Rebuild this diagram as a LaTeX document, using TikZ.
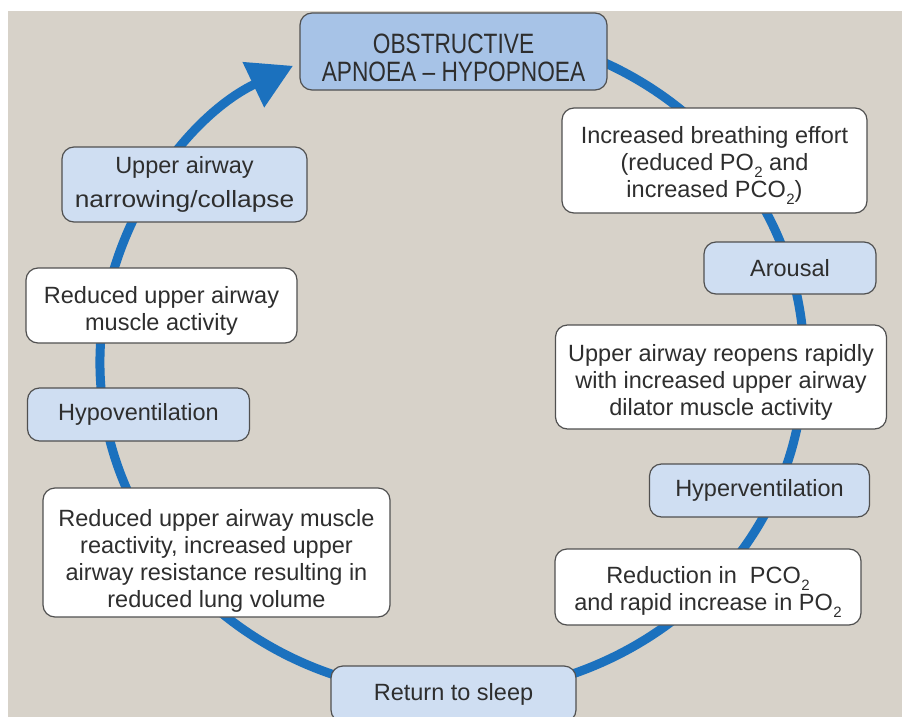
\documentclass[tikz,border=0pt]{standalone}
\usepackage{fontspec}
\setmainfont{Liberation Sans}
\newfontfamily\condfont[FakeStretch=0.81]{Liberation Sans}
\usetikzlibrary{arrows.meta}
\definecolor{bgbeige}{HTML}{D7D2C9}
\definecolor{cycblue}{HTML}{1B71BE}
\definecolor{boxblue}{HTML}{CFDEF2}
\definecolor{topblue}{HTML}{A7C3E7}
\definecolor{edgegray}{HTML}{505050}
\definecolor{txtgray}{HTML}{2E2E2E}
\newcommand\subtwo{\kern0.5pt\raisebox{-0.55ex}{\fontsize{15}{15}\selectfont 2}}
\newcommand\dropa{\rule{0pt}{27pt}}
\newcommand\dropb{\rule{0pt}{33pt}}
\begin{document}
\begin{tikzpicture}[x=1pt,y=-1pt,
  box/.style={draw=edgegray, line width=1.2pt, rounded corners=12pt, inner sep=0pt,
    align=center, text=txtgray, font=\fontsize{23.5}{27}\selectfont},
  whitebox/.style={box, fill=white},
  bluebox/.style={box, fill=boxblue},
  topbox/.style={box, fill=topblue, font=\condfont\fontsize{28}{28.5}\selectfont},
  cycle/.style={cycblue, line width=9pt, -{Triangle[length=44pt,width=48pt]}}]
\useasboundingbox (0,0) rectangle (902,717);
\clip (0,0) rectangle (902,717);
\fill[white] (0,0) rectangle (902,717);
\fill[bgbeige] (8,11) rectangle (902,717);
% cycle line
\coordinate (c) at (452,362);
\draw[cycle] (c) ++(-80:352 and 332) arc[start angle=-80, end angle=243.15, x radius=352, y radius=332];
% nodes
\node[topbox, minimum width=307pt, minimum height=77pt] (top) at (453.5,51.5) {\rule{0pt}{32pt}OBSTRUCTIVE\\APNOEA – HYPOPNOEA};
\node[whitebox, minimum width=305pt, minimum height=105pt] (effort) at (714.5,160.5) {\dropa Increased breathing effort\\(reduced PO\subtwo\ and\\increased PCO\subtwo)};
\node[bluebox, minimum width=172pt, minimum height=52pt] (arousal) at (790,268) {Arousal};
\node[whitebox, minimum width=331pt, minimum height=104pt] (reopen) at (721,377) {\dropa Upper airway reopens rapidly\\with increased upper airway\\dilator muscle activity};
\node[bluebox, minimum width=220pt, minimum height=53pt] (hyper) at (759.5,490.5) {Hyperventilation};
\node[whitebox, minimum width=306pt, minimum height=76pt] (reduction) at (708,587) {\dropa Reduction in\ \ PCO\subtwo\\and rapid increase in PO\subtwo};
\node[bluebox, minimum width=245pt, minimum height=56pt] (sleep) at (453.5,694) {Return to sleep};
\node[whitebox, minimum width=347pt, minimum height=129pt] (reactivity) at (216.5,552.5) {\dropb Reduced upper airway muscle\\reactivity, increased upper\\airway resistance resulting in\\reduced lung volume};
\node[bluebox, minimum width=222pt, minimum height=53pt] (hypo) at (138.5,414.5) {Hypoventilation};
\node[whitebox, minimum width=271pt, minimum height=75pt] (activity) at (161.5,305.5) {\dropa Reduced upper airway\\muscle activity};
\node[bluebox, minimum width=245pt, minimum height=75pt] (narrow) at (184.5,184.5) {Upper airway\\[7pt]\scalebox{1.12}[1]{narrowing/collapse}};
\end{tikzpicture}
\end{document}
